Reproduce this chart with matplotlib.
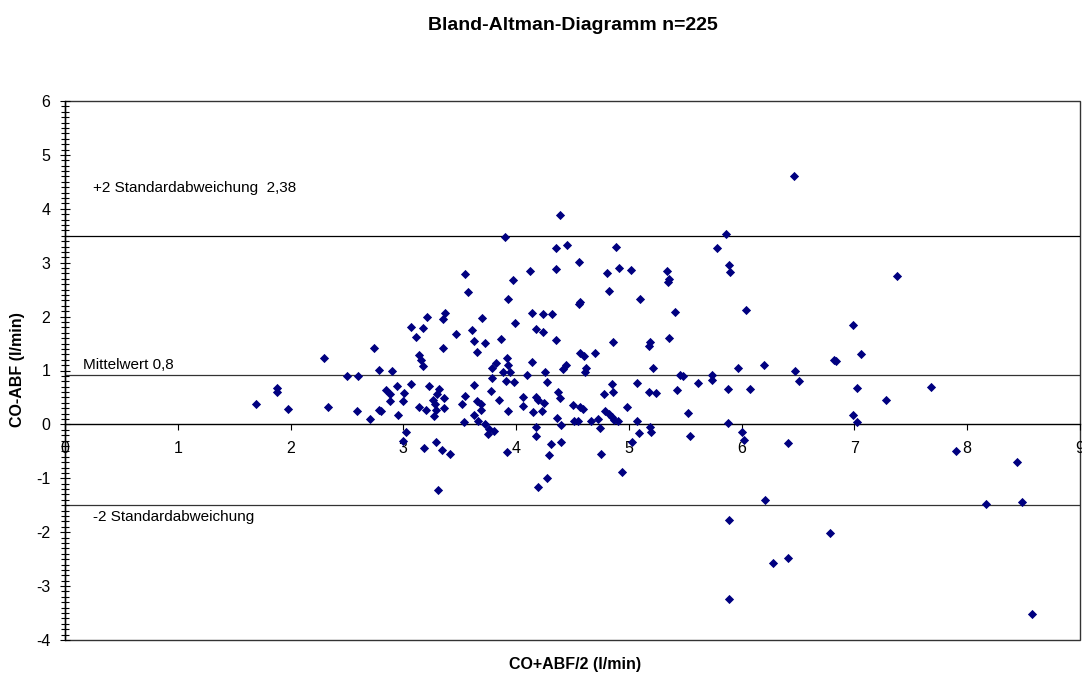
import matplotlib
matplotlib.use("Agg")
import matplotlib.pyplot as plt
from matplotlib.ticker import MultipleLocator
from matplotlib.patches import Rectangle

plt.rcParams['font.family'] = ['Liberation Sans', 'DejaVu Sans']
plt.rcParams['axes.unicode_minus'] = False

# ---- data ----
mean_xy = [1.69, 1.88, 1.88, 1.98, 2.30, 2.33, 2.50, 2.60, 2.59, 2.70,
           2.74, 2.78, 2.78, 2.80, 2.90, 2.85, 2.88, 2.88, 2.94, 2.95,
           3.01, 3.00, 3.07, 3.02, 3.00, 3.07, 3.11, 3.14, 3.16, 3.14,
           3.17, 3.17, 3.21, 3.37, 3.35, 3.47, 3.35, 3.23, 3.32, 3.30,
           3.26, 3.36, 3.28, 3.20, 3.27, 3.29, 3.36, 3.18, 3.29, 3.34,
           3.41, 3.31, 3.55, 3.57, 3.61, 3.63, 3.65, 3.72, 3.70, 3.55,
           3.52, 3.63, 3.65, 3.69, 3.69, 3.63, 3.66, 3.54, 3.72, 3.76,
           3.80, 3.75, 3.78, 3.85, 3.82, 3.79, 3.79, 3.87, 3.88, 3.90,
           3.93, 3.97, 3.99, 3.92, 3.93, 3.95, 3.91, 3.98, 3.93, 3.92,
           4.06, 4.06, 4.12, 4.14, 4.14, 4.10, 4.18, 4.18, 4.19, 4.15,
           4.18, 4.18, 4.19, 4.24, 4.24, 4.26, 4.27, 4.25, 4.23, 4.27,
           4.31, 4.29, 4.32, 4.35, 4.35, 4.35, 4.39, 4.45, 4.37, 4.39,
           4.36, 4.40, 4.40, 4.44, 4.42, 4.50, 4.51, 4.55, 4.57, 4.56,
           4.56, 4.57, 4.57, 4.60, 4.70, 4.62, 4.61, 4.59, 4.66, 4.73,
           4.74, 4.75, 4.79, 4.82, 4.85, 4.87, 4.90, 4.78, 4.85, 4.86,
           4.86, 4.82, 4.81, 4.89, 4.91, 4.98, 4.94, 5.02, 5.03, 5.07,
           5.07, 5.09, 5.10, 5.18, 5.24, 5.19, 5.18, 5.21, 5.19, 5.20,
           5.34, 5.36, 5.35, 5.36, 5.41, 5.43, 5.45, 5.48, 5.52, 5.54,
           5.61, 5.74, 5.74, 5.78, 5.86, 5.89, 5.90, 5.88, 5.88, 5.97,
           6.00, 6.02, 6.04, 6.07, 6.46, 7.38, 6.99, 7.06, 6.82, 6.84,
           6.20, 6.47, 6.51, 7.02, 7.28, 6.99, 7.02, 6.41, 6.21, 5.89,
           6.78, 6.28, 6.41, 5.89, 7.68, 7.90, 8.44, 8.17, 8.49, 8.57]

diff_xy = [0.37, 0.68, 0.60, 0.29, 1.24, 0.32, 0.90, 0.90, 0.25, 0.10,
           1.42, 1.01, 0.27, 0.24, 1.00, 0.64, 0.56, 0.43, 0.71, 0.17,
           0.59, 0.43, 0.75, -0.14, -0.30, 1.80, 1.63, 1.28, 1.20, 0.32,
           1.08, 1.78, 1.99, 2.07, 1.95, 1.68, 1.42, 0.72, 0.65, 0.57,
           0.46, 0.49, 0.38, 0.26, 0.15, 0.26, 0.30, -0.43, -0.33, -0.48,
           -0.54, -1.22, 2.79, 2.45, 1.76, 1.55, 1.35, 1.51, 1.98, 0.52,
           0.37, 0.74, 0.43, 0.37, 0.27, 0.18, 0.06, 0.05, 0.00, -0.08,
           -0.12, -0.17, 0.62, 0.46, 1.13, 1.05, 0.87, 1.58, 0.98, 3.48,
           2.32, 2.67, 1.89, 1.23, 1.11, 0.98, 0.80, 0.79, 0.24, -0.51,
           0.51, 0.35, 2.84, 2.06, 1.16, 0.91, 1.77, 0.51, 0.46, 0.23,
           -0.05, -0.22, -1.17, 2.05, 1.72, 0.98, 0.78, 0.40, 0.25, -1.00,
           -0.37, -0.56, 2.05, 1.56, 3.27, 2.88, 3.88, 3.33, 0.61, 0.49,
           0.11, -0.02, -0.32, 1.11, 1.03, 0.36, 0.07, 0.07, 0.32, 3.01,
           2.24, 2.27, 1.32, 1.27, 1.32, 1.04, 0.97, 0.28, 0.06, 0.10,
           -0.07, -0.54, 0.25, 0.20, 0.14, 0.09, 0.06, 0.57, 0.75, 0.60,
           1.52, 2.48, 2.81, 3.29, 2.90, 0.33, -0.88, 2.86, -0.33, 0.77,
           0.06, -0.16, 2.33, 0.60, 0.59, 1.52, 1.45, 1.05, -0.04, -0.14,
           2.84, 2.70, 2.65, 1.61, 2.08, 0.63, 0.91, 0.90, 0.22, -0.22,
           0.76, 0.91, 0.82, 3.28, 3.54, 2.96, 2.83, 0.66, 0.02, 1.05,
           -0.15, -0.29, 2.12, 0.66, 4.60, 2.76, 1.84, 1.31, 1.20, 1.18,
           1.11, 1.00, 0.80, 0.67, 0.46, 0.17, 0.04, -0.34, -1.41, -1.78,
           -2.02, -2.57, -2.48, -3.24, 0.70, -0.49, -0.69, -1.48, -1.44, -3.51]

upper_limit = 3.49
mean_diff = 0.91
lower_limit = -1.50

title = "Bland-Altman-Diagramm n=225"
x_label = "CO+ABF/2 (l/min)"
y_label = "CO-ABF (l/min)"
upper_text = "+2 Standardabweichung  2,38"
mean_text = "Mittelwert 0,8"
lower_text = "-2 Standardabweichung"

W, H = 1082, 680
fig = plt.figure(figsize=(W / 100, H / 100), dpi=100)
fig.patch.set_facecolor('white')

L, R, T, B = 65, 1080, 101, 640
ax = fig.add_axes([L / W, (H - B) / H, (R - L) / W, (B - T) / H])
ax.set_xlim(0, 9)
ax.set_ylim(-4, 6)

# reference lines
for val, col in [(upper_limit, 'black'), (mean_diff, '#333333'), (lower_limit, '#333333')]:
    ax.axhline(val, color=col, lw=0.9, zorder=1)

ax.scatter(mean_xy, diff_xy, marker='D', s=22, color='#000080',
           linewidths=0, zorder=3)

# annotations
ax.text(0.249, 4.39, upper_text, fontsize=11, ha='left', va='center')
ax.text(0.16, 1.10, mean_text, fontsize=11, ha='left', va='center')
ax.text(0.25, -1.715, lower_text, fontsize=11, ha='left', va='center')

# spines / axes
for s in ['top', 'right']:
    ax.spines[s].set_visible(False)
ax.spines['bottom'].set_position(('data', 0))
ax.spines['bottom'].set_linewidth(1.0)
ax.spines['left'].set_linewidth(1.0)
ax.add_patch(Rectangle((0, 0), 1, 1, transform=ax.transAxes, fill=False,
                       edgecolor='#333333', lw=1.0, clip_on=False, zorder=0.5))

ax.xaxis.set_major_locator(MultipleLocator(1))
ax.yaxis.set_major_locator(MultipleLocator(1))
ax.yaxis.set_minor_locator(MultipleLocator(0.1))
ax.tick_params(axis='x', which='major', direction='out', length=4, width=0.8,
               labelsize=11.5, pad=8)
ax.tick_params(axis='y', which='major', direction='inout', length=7, width=0.8,
               labelsize=11.5, pad=7)
ax.tick_params(axis='y', which='minor', direction='inout', length=5.5, width=0.8)

fig.text(572.5 / W, 1 - 25 / H, title, fontsize=14, fontweight='bold',
         ha='center', va='center')
fig.text(575 / W, 1 - 664 / H, x_label, fontsize=11.5, fontweight='bold',
         ha='center', va='center')
fig.text(18 / W, 1 - 370 / H, y_label, fontsize=11.5, fontweight='bold',
         ha='center', va='center', rotation=90)

fig.savefig('out.png', dpi=100, facecolor='white')
